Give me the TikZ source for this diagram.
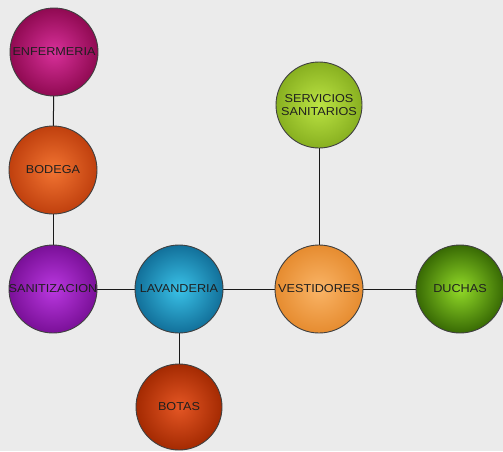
\documentclass[tikz,border=0pt]{standalone}
\usepackage{fontspec}
\setmainfont{Liberation Sans}
\begin{document}
\begin{tikzpicture}[x=1pt,y=-1pt,
  ballnode/.style 2 args={circle, minimum size=88pt, inner sep=0pt, draw=black!75, line width=0.9pt,
    shading=radial, inner color=#1, outer color=#2},
  lbl/.style={font=\fontsize{11.5}{12.5}\selectfont, text=black!88, align=center, xscale=1.1},
  conn/.style={draw=black!90, line width=1pt}]
\fill[black!8] (0,0) rectangle (503,451);
\useasboundingbox (0,0) rectangle (503,451);
\definecolor{enfA}{HTML}{D8309A}\definecolor{enfB}{HTML}{900A52}
\definecolor{bodA}{HTML}{F27432}\definecolor{bodB}{HTML}{C0400E}
\definecolor{sanA}{HTML}{BA38E0}\definecolor{sanB}{HTML}{7A1098}
\definecolor{lavA}{HTML}{3AC2E8}\definecolor{lavB}{HTML}{12709A}
\definecolor{vesA}{HTML}{FAB466}\definecolor{vesB}{HTML}{E68C30}
\definecolor{ducA}{HTML}{92DA28}\definecolor{ducB}{HTML}{386A04}
\definecolor{serA}{HTML}{BCE444}\definecolor{serB}{HTML}{88B020}
\definecolor{botA}{HTML}{E45624}\definecolor{botB}{HTML}{A42A02}
\coordinate (cENF) at (54,52);
\coordinate (cBOD) at (53,170);
\coordinate (cSAN) at (53,289);
\coordinate (cLAV) at (179,289);
\coordinate (cVES) at (319,289);
\coordinate (cDUC) at (460,289);
\coordinate (cSER) at (319,105);
\coordinate (cBOT) at (179,407);
\draw[conn] (cENF) -- (cBOD);
\draw[conn] (cBOD) -- (cSAN);
\draw[conn] (cSAN) -- (cLAV);
\draw[conn] (cLAV) -- (cVES);
\draw[conn] (cVES) -- (cDUC);
\draw[conn] (cVES) -- (cSER);
\draw[conn] (cLAV) -- (cBOT);
\node[ballnode={enfA}{enfB}] (enf) at (cENF) {};
\node[ballnode={bodA}{bodB}] (bod) at (cBOD) {};
\node[ballnode={sanA}{sanB}] (san) at (cSAN) {};
\node[ballnode={lavA}{lavB}] (lav) at (cLAV) {};
\node[ballnode={vesA}{vesB}] (ves) at (cVES) {};
\node[ballnode={ducA}{ducB}] (duc) at (cDUC) {};
\node[ballnode={serA}{serB}, minimum size=86pt] (ser) at (cSER) {};
\node[ballnode={botA}{botB}, minimum size=86pt] (bot) at (cBOT) {};
\node[lbl] (tenf) at (enf.center) {ENFERMERIA};
\node[lbl] (tbod) at (bod.center) {BODEGA};
\node[lbl] (tsan) at (san.center) {SANITIZACION};
\node[lbl] (tlav) at (lav.center) {LAVANDERIA};
\node[lbl] (tves) at (ves.center) {VESTIDORES};
\node[lbl] (tduc) at (duc.center) {DUCHAS};
\node[lbl] (tser) at (ser.center) {SERVICIOS\\SANITARIOS};
\node[lbl] (tbot) at (bot.center) {BOTAS};
\end{tikzpicture}
\end{document}
